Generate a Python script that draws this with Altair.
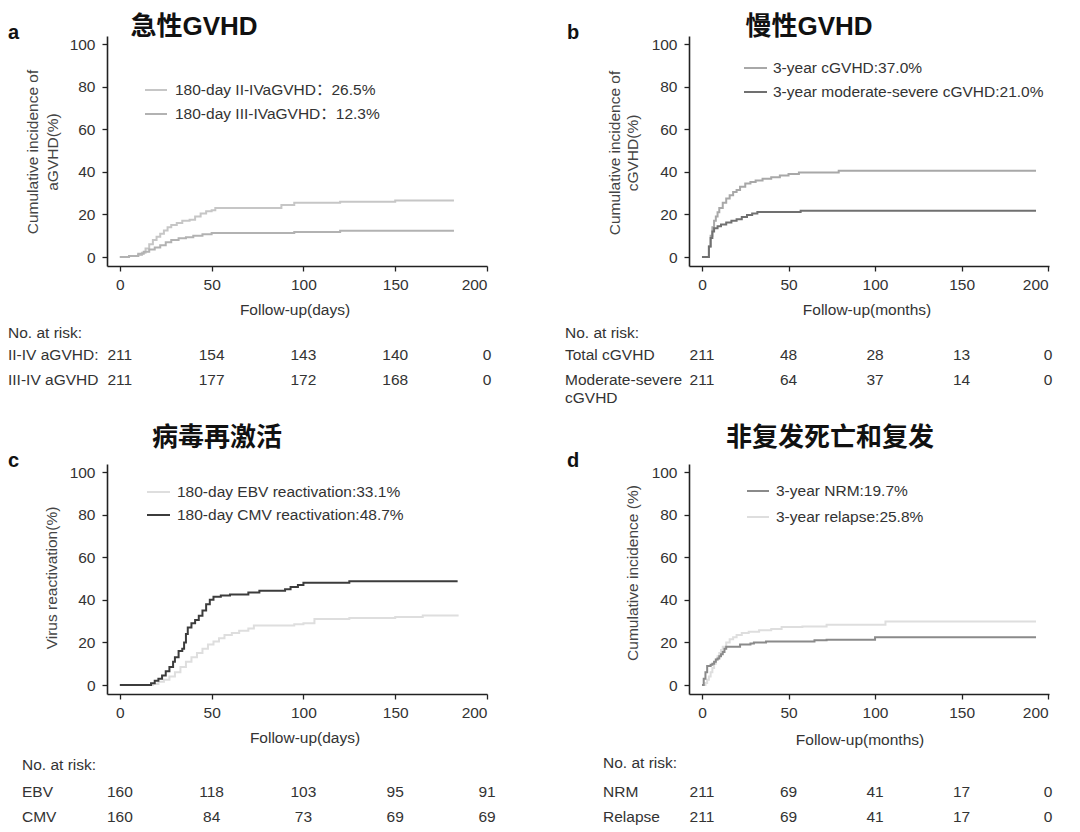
import altair as alt
import pandas as pd

FONT = "Liberation Sans"
LEGFONT = "Liberation Sans, Noto Sans CJK SC"
CJK = "Liberation Sans, Noto Sans CJK SC"
TXT = "#333333"

# ---------------- data ----------------
# panel a (days)
a_t_II = [0, 5, 10, 12, 14, 16, 18, 20, 22, 24, 26, 28, 31, 34, 38, 41, 44, 47, 50, 52, 88, 95, 120, 150, 182]
a_v_II = [0, 0.5, 1, 2, 4, 6, 8, 9.5, 11, 12.5, 14, 15, 16, 17, 17.5, 19, 20.5, 21.5, 22, 23, 24.5, 25.5, 26, 26.5, 26.5]
a_t_III = [0, 5, 10, 13, 16, 19, 22, 25, 28, 32, 36, 40, 45, 50, 95, 120, 182]
a_v_III = [0, 0.5, 1.5, 2.5, 3.5, 4.5, 5.5, 7, 8, 8.8, 9.3, 10, 10.7, 11.3, 11.8, 12.3, 12.3]
a_legend = ["180-day II-IVaGVHD：26.5%", "180-day III-IVaGVHD：12.3%"]
a_rows = ["II-IV aGVHD:", "III-IV aGVHD"]
a_risk_II = [211, 154, 143, 140, 0]
a_risk_III = [211, 177, 172, 168, 0]

# panel b (months)
b_t_c = [0, 4, 5, 6, 7, 8, 9, 10, 12, 14, 16, 18, 20, 22, 25, 28, 31, 35, 40, 45, 50, 56, 79, 193]
b_v_c = [0, 5, 10, 14, 17, 19, 21, 23, 25.5, 27.5, 29, 30.5, 31.5, 33, 34.5, 35.3, 36, 36.8, 37.5, 38.3, 39, 39.7, 40.5, 40.5]
b_t_m = [0, 4, 5, 6, 7, 9, 11, 14, 17, 20, 23, 26, 29, 32, 57, 193]
b_v_m = [0, 5, 9, 12, 13.5, 14.5, 15.3, 16.2, 17, 17.8, 18.8, 19.7, 20.5, 21.2, 21.8, 21.8]
b_legend = ["3-year cGVHD:37.0%", "3-year moderate-severe cGVHD:21.0%"]
b_risk_c = [211, 48, 28, 13, 0]
b_risk_m = [211, 64, 37, 14, 0]

# panel c (days)
c_t_ebv = [0, 18, 21, 24, 27, 30, 33, 36, 39, 42, 45, 48, 51, 54, 57, 61, 65, 70, 73, 95, 100, 106, 125, 150, 165, 184]
c_v_ebv = [0, 0.5, 1.5, 2.5, 4, 6, 8.5, 11, 13, 15, 17, 19, 20.5, 22, 23.5, 24.5, 25.5, 26.5, 28, 28.5, 29, 31, 31.5, 32, 32.7, 33.1]
c_t_cmv = [0, 17, 19, 21, 23, 25, 27, 29, 30, 32, 34, 35, 36, 37, 39, 41, 43, 45, 47, 49, 51, 55, 60, 70, 76, 90, 93, 97, 100, 125, 184]
c_v_cmv = [0, 0.8, 2, 3, 4.5, 6.5, 8.5, 11, 13, 16, 17, 20, 24, 27, 29, 30.5, 32.5, 35, 38, 40, 41.5, 42, 42.5, 43.5, 44.3, 45, 46, 47, 48, 48.7, 48.7]
c_legend = ["180-day EBV reactivation:33.1%", "180-day CMV reactivation:48.7%"]
c_risk_ebv = [160, 118, 103, 95, 91]
c_risk_cmv = [160, 84, 73, 69, 69]

# panel d (months)
d_t_nrm = [0, 1, 2, 3, 5, 6, 7, 8, 9, 10, 11, 12, 13, 14, 20, 22, 28, 30, 37, 65, 72, 100, 193]
d_v_nrm = [0, 3, 6, 9, 9.5, 10, 11, 12, 12.5, 13.5, 14.5, 15.5, 17, 18, 18, 19, 19.5, 20, 20.5, 21, 21.3, 22.4, 22.4]
d_t_rel = [0, 2, 3, 4, 5, 6, 7, 8, 9, 10, 11, 12, 14, 16, 18, 20, 23, 27, 33, 40, 46, 58, 72, 106, 193]
d_v_rel = [0, 1, 2.5, 4, 6, 8, 10, 12, 13.5, 15, 16.5, 18, 20, 21.5, 22.5, 23.5, 24.5, 25, 25.7, 26.3, 27.3, 27.5, 28.3, 29.8, 29.8]
d_legend = ["3-year NRM:19.7%", "3-year relapse:25.8%"]
d_risk_nrm = [211, 69, 41, 17, 0]
d_risk_rel = [211, 69, 41, 17, 0]

risk_times = [0, 50, 100, 150, 200]
x_ticks = [0, 50, 100, 150, 200]
y_ticks = [0, 20, 40, 60, 80, 100]

ONE = alt.Data(values=[{"k": 0}])


def T(s, x, y, size=15.5, align="left", baseline="middle", color=TXT,
      weight="normal", font=FONT, angle=None):
    kw = dict(text=s, align=align, baseline=baseline, fontSize=size, color=color,
              font=font, fontWeight=weight)
    if angle is not None:
        kw["angle"] = angle
    return alt.Chart(ONE).mark_text(**kw).encode(x=alt.value(x), y=alt.value(y))


def legend_item(x1, x2, y, color, label, tx):
    r = alt.Chart(ONE).mark_rule(color=color, strokeWidth=2).encode(
        x=alt.value(x1), x2=alt.value(x2), y=alt.value(y))
    return [r, T(label, tx, y, font=LEGFONT)]


def panel(width, height, xdom, series, legend, risk, texts):
    xenc = alt.X("t:Q", scale=alt.Scale(domain=xdom, nice=False, zero=False),
                 axis=alt.Axis(values=x_ticks, title=None, labelPadding=6, format="d"))
    yenc = alt.Y("v:Q", scale=alt.Scale(domain=[-4.2, 103.8], nice=False, zero=False),
                 axis=alt.Axis(values=y_ticks, title=None, labelPadding=7, format="d"))
    layers = []
    for t, v, col in series:
        df = pd.DataFrame({"t": t, "v": v})
        layers.append(alt.Chart(df).mark_line(interpolate="step-after", strokeWidth=2,
                                              color=col).encode(x=xenc, y=yenc))
    for item in legend:
        layers += legend_item(*item)
    for vals, py in risk:
        df = pd.DataFrame({"t": risk_times, "n": [str(n) for n in vals]})
        layers.append(alt.Chart(df).mark_text(fontSize=15.5, font=FONT, color=TXT,
                                              align="center", baseline="middle").encode(
            x=xenc, y=alt.value(py), text="n:N"))
    layers += texts
    return alt.layer(*layers).properties(width=width, height=height)


W1, W2, H = 380, 360, 230

pa = panel(
    W1, H, [-7, 200],
    [(a_t_II, a_v_II, "#c6c6c6"), (a_t_III, a_v_III, "#b2b2b2")],
    [(38, 60, 54, "#c6c6c6", a_legend[0], 68), (38, 60, 78, "#b2b2b2", a_legend[1], 68)],
    [(a_risk_II, 319), (a_risk_III, 344)],
    [
        T("a", -99, 3, size=20, weight="bold", baseline="alphabetic", color="#111"),
        T("急性GVHD", 87, -9, size=26, align="center", font=CJK, weight="bold", color="#111"),
        T("Cumulative incidence of", -74, 116, align="center", angle=270, color="#444"),
        T("aGVHD(%)", -54, 116, align="center", angle=270, color="#444"),
        T("Follow-up(days)", 188, 274, align="center"),
        T("No. at risk:", -99, 297),
        T(a_rows[0], -99, 319),
        T(a_rows[1], -99, 344),
    ],
)

pb = panel(
    W2, H, [-7.5, 200.5],
    [(b_t_c, b_v_c, "#a8a8a8"), (b_t_m, b_v_m, "#707070")],
    [(55, 78, 32, "#a8a8a8", b_legend[0], 84), (55, 78, 56, "#707070", b_legend[1], 84)],
    [(b_risk_c, 319), (b_risk_m, 344)],
    [
        T("b", -122, 3, size=20, weight="bold", baseline="alphabetic", color="#111"),
        T("慢性GVHD", 120, -9, size=26, align="center", font=CJK, weight="bold", color="#111"),
        T("Cumulative incidence of", -74, 117, align="center", angle=270, color="#444"),
        T("cGVHD(%)", -56, 117, align="center", angle=270, color="#444"),
        T("Follow-up(months)", 178, 274, align="center"),
        T("No. at risk:", -124, 297),
        T("Total cGVHD", -124, 319),
        T("Moderate-severe", -124, 344),
        T("cGVHD", -124, 362),
    ],
)

pc = panel(
    W1, H, [-7, 200],
    [(c_t_ebv, c_v_ebv, "#dedede"), (c_t_cmv, c_v_cmv, "#3c3c3c")],
    [(40, 63, 28, "#dedede", c_legend[0], 70), (40, 63, 51, "#3c3c3c", c_legend[1], 70)],
    [(c_risk_ebv, 328), (c_risk_cmv, 353)],
    [
        T("c", -99, 3, size=20, weight="bold", baseline="alphabetic", color="#111"),
        T("病毒再激活", 110, -26, size=26, align="center", font=CJK, weight="bold", color="#111"),
        T("Virus reactivation(%)", -55, 114, align="center", angle=270, color="#444"),
        T("Follow-up(days)", 198, 274, align="center"),
        T("No. at risk:", -85, 301),
        T("EBV", -85, 328),
        T("CMV", -85, 353),
    ],
)

pd_ = panel(
    W2, H, [-7.5, 200.5],
    [(d_t_rel, d_v_rel, "#dedede"), (d_t_nrm, d_v_nrm, "#8a8a8a")],
    [(58, 80, 27, "#8a8a8a", d_legend[0], 87), (58, 80, 53, "#dedede", d_legend[1], 87)],
    [(d_risk_nrm, 328), (d_risk_rel, 353)],
    [
        T("d", -122, 3, size=20, weight="bold", baseline="alphabetic", color="#111"),
        T("非复发死亡和复发", 141, -26, size=26, align="center", font=CJK, weight="bold", color="#111"),
        T("Cumulative incidence (%)", -56, 109, align="center", angle=270, color="#444"),
        T("Follow-up(months)", 171, 276, align="center"),
        T("No. at risk:", -86, 299),
        T("NRM", -86, 328),
        T("Relapse", -86, 353),
    ],
)

chart = alt.ConcatChart(
    concat=[pa, pb, pc, pd_], columns=2,
    spacing={"row": 198, "column": 202}, bounds="flush",
).properties(
    padding={"top": 6, "left": 0, "right": 0, "bottom": 0}
).configure_view(stroke=None).configure_axis(
    grid=False,
    labelFont=FONT, labelFontSize=15.5, labelColor=TXT,
    domainColor="#222222", domainWidth=1.6,
    tickColor="#222222", tickWidth=1.3, tickSize=5,
)

chart.save("out.html", embed_options={"renderer": "svg", "actions": False})
